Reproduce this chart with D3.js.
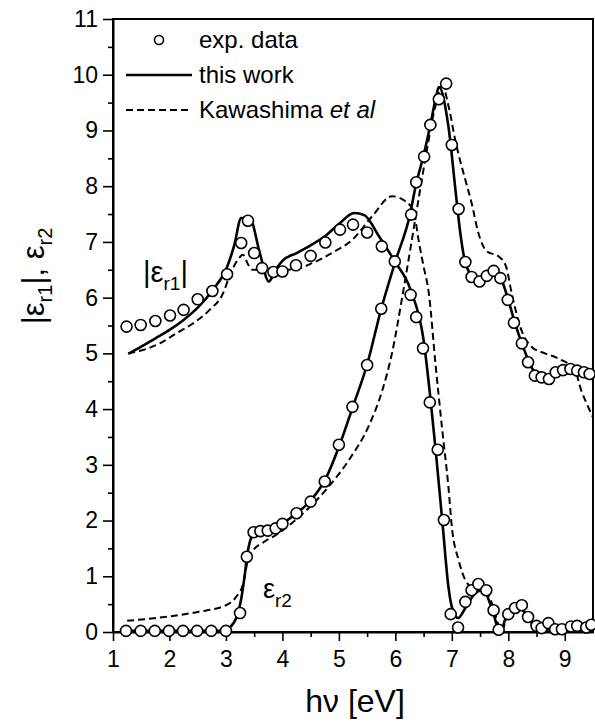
<!DOCTYPE html>
<html>
<head>
<meta charset="utf-8">
<script src="https://cdn.jsdelivr.net/npm/d3@7"></script>
<style>
  body { margin: 0; background: #fff; }
  svg { display: block; font-family: "Liberation Sans", Arial, sans-serif; }
</style>
</head>
<body>
<div id="chart"></div>
<script>
// |eps_r1| - measured points
var expE1 = [[1.24,5.48],[1.49,5.51],[1.75,5.58],[2.01,5.68],[2.25,5.78],[2.50,5.97],[2.76,6.12],[3.02,6.42],
  [3.27,6.98],[3.39,7.38],[3.50,6.80],[3.64,6.53],[3.84,6.46],[4.00,6.47],[4.24,6.58],[4.50,6.75],[4.76,6.99],
  [5.02,7.22],[5.25,7.31],[5.50,7.17],[5.76,6.92],[5.99,6.65],[6.27,6.05],[6.37,5.65],[6.49,5.09],[6.61,4.12],
  [6.75,3.27],[6.86,2.01],[6.98,0.32],[7.11,0.08],[7.24,0.54],[7.35,0.75],[7.47,0.86],[7.61,0.75],[7.74,0.39],
  [7.83,0.04],[8.00,0.32],[8.12,0.43],[8.24,0.48],[8.35,0.27],[8.50,0.11],[8.59,0.07],[8.71,0.16],[8.83,0.05],
  [8.95,0.05],[9.11,0.10],[9.22,0.11],[9.38,0.08],[9.47,0.13]];

// eps_r2 - measured points
var expE2 = [[1.23,0.02],[1.49,0.02],[1.74,0.02],[1.99,0.02],[2.24,0.02],[2.49,0.02],[2.74,0.02],[3.00,0.02],
  [3.25,0.34],[3.37,1.35],[3.49,1.79],[3.61,1.81],[3.74,1.82],[3.88,1.86],[4.00,1.94],[4.25,2.13],[4.50,2.34],
  [4.75,2.70],[5.00,3.36],[5.24,4.04],[5.50,4.79],[5.75,5.80],[6.28,7.49],[6.37,8.07],[6.51,8.53],
  [6.62,9.10],[6.77,9.56],[6.90,9.84],[7.00,8.74],[7.12,7.59],[7.24,6.64],[7.35,6.37],[7.49,6.29],[7.62,6.39],
  [7.74,6.48],[7.86,6.35],[7.99,5.96],[8.10,5.55],[8.24,5.18],[8.35,4.84],[8.47,4.60],[8.59,4.57],[8.72,4.54],
  [8.84,4.66],[8.97,4.70],[9.10,4.72],[9.22,4.69],[9.34,4.66],[9.44,4.63]];

// this work
var fitE1 = [[1.27,4.99],[1.5,5.12],[1.75,5.27],[2.0,5.42],[2.25,5.6],[2.5,5.82],[2.76,6.13],[3.02,6.55],
  [3.15,6.95],[3.27,7.43],[3.42,7.43],[3.6,6.8],[3.76,6.29],[3.88,6.5],[4.0,6.66],[4.25,6.8],[4.47,6.92],
  [4.75,7.1],[5.0,7.32],[5.27,7.52],[5.45,7.48],[5.71,7.1],[5.99,6.65],[6.27,6.14],[6.5,5.24],[6.62,4.2],
  [6.72,3.2],[6.84,1.89],[6.94,0.81],[7.0,0.45],[7.11,0.25],[7.25,0.45],[7.4,0.68],[7.5,0.74],[7.58,0.72],
  [7.7,0.45],[7.86,0.0],[7.97,0.3],[8.12,0.44],[8.22,0.42],[8.41,0.17],[8.59,0.04],[8.8,0.05],[9.2,0.05],[9.5,0.16]];

var fitE2 = [[1.25,0.02],[2.9,0.02],[3.05,0.07],[3.2,0.3],[3.28,0.65],[3.33,1.0],[3.38,1.4],[3.47,1.74],
  [3.56,1.81],[3.75,1.85],[4.0,1.95],[4.25,2.13],[4.5,2.36],[4.75,2.72],[5.0,3.32],[5.25,4.05],[5.5,4.8],
  [5.75,5.8],[6.0,6.65],[6.25,7.45],[6.37,8.05],[6.5,8.55],[6.62,9.1],[6.72,9.6],[6.77,9.78],[6.94,9.07],
  [7.07,7.88],[7.15,7.16],[7.24,6.62],[7.3,6.47],[7.38,6.32],[7.5,6.26],[7.65,6.35],[7.77,6.43],[7.88,6.32],
  [8.0,5.96],[8.12,5.54],[8.24,5.18],[8.38,4.82],[8.5,4.6],[8.59,4.52],[8.77,4.58],[9.0,4.7],[9.24,4.67],[9.5,4.57]];

// Kawashima et al
var kawE1 = [[1.27,5.0],[1.53,5.06],[1.83,5.18],[2.12,5.36],[2.42,5.54],[2.71,5.78],[2.95,6.08],[3.06,6.38],
  [3.21,6.68],[3.3,6.77],[3.39,6.6],[3.47,6.5],[3.71,6.5],[3.89,6.5],[4.21,6.51],[4.53,6.62],[4.89,6.81],
  [5.24,7.04],[5.59,7.46],[5.94,7.82],[6.18,7.73],[6.33,7.52],[6.41,7.04],[6.5,6.56],[6.59,6.1],[6.71,4.82],
  [6.83,3.63],[6.94,2.6],[7.0,1.89],[7.12,1.29],[7.24,0.93],[7.35,0.81],[7.5,0.8],[7.6,0.75],[7.75,0.4],
  [7.87,0.02],[8.0,0.3],[8.15,0.45],[8.3,0.35],[8.5,0.1],[8.7,0.05],[9.0,0.05],[9.3,0.07],[9.5,0.15]];

var kawE2 = [[1.25,0.2],[2.0,0.28],[2.5,0.36],[3.0,0.48],[3.18,0.63],[3.3,0.85],[3.39,1.29],[3.47,1.45],
  [3.65,1.6],[3.9,1.75],[4.3,2.07],[4.77,2.55],[5.18,3.09],[5.53,3.7],[5.77,4.34],[5.94,5.0],[6.12,6.0],
  [6.27,6.9],[6.4,7.7],[6.55,8.6],[6.7,9.4],[6.83,9.8],[6.95,9.4],[7.06,8.83],[7.24,8.11],[7.35,7.7],
  [7.47,7.16],[7.62,6.83],[7.83,6.74],[7.96,6.56],[8.06,6.08],[8.21,5.48],[8.41,5.12],[8.65,5.0],[8.88,4.91],
  [9.18,4.7],[9.29,4.34],[9.41,4.05],[9.5,3.85]];

var xTicks = [1,2,3,4,5,6,7,8,9];
var yTicks = [0,1,2,3,4,5,6,7,8,9,10,11];

function drawChart() {
  var width = 595, height = 725;
  var mLeft = 113, mRight = 593, mTop = 19, mBottom = 632;

  var svg = d3.select('#chart').append('svg')
    .attr('width', width)
    .attr('height', height);

  var x = d3.scaleLinear().domain([1, 9.5]).range([mLeft, mRight]);
  var y = d3.scaleLinear().domain([0, 11]).range([mBottom, mTop]);

  var line = d3.line()
    .x(function (d) { return x(d[0]); })
    .y(function (d) { return y(d[1]); })
    .curve(d3.curveMonotoneX);

  // frame
  svg.append('rect')
    .attr('x', mLeft).attr('y', mTop)
    .attr('width', mRight - mLeft).attr('height', mBottom - mTop)
    .attr('fill', 'none').attr('stroke', '#000').attr('stroke-width', 2);

  // minor ticks
  var minorX = d3.range(1.5, 9.5, 1);
  var minorY = d3.range(0.5, 11, 1);
  svg.append('g')
    .attr('transform', 'translate(0,' + mBottom + ')')
    .call(d3.axisBottom(x).tickValues(minorX).tickSize(5).tickSizeOuter(0).tickFormat(''))
    .call(function (g) { g.select('.domain').remove(); });
  svg.append('g')
    .attr('transform', 'translate(' + mLeft + ',0)')
    .call(d3.axisLeft(y).tickValues(minorY).tickSize(5).tickSizeOuter(0).tickFormat(''))
    .call(function (g) { g.select('.domain').remove(); });

  svg.append('g')
    .attr('transform', 'translate(0,' + mBottom + ')')
    .call(d3.axisBottom(x).tickValues(xTicks).tickSize(9).tickPadding(10).tickSizeOuter(0).tickFormat(d3.format('d')));
  svg.append('g')
    .attr('transform', 'translate(' + mLeft + ',0)')
    .call(d3.axisLeft(y).tickValues(yTicks).tickSize(10).tickPadding(5).tickSizeOuter(0).tickFormat(d3.format('d')));

  svg.selectAll('.tick line').attr('stroke', '#000').attr('stroke-width', 1.6);
  svg.selectAll('.domain').attr('stroke', '#000').attr('stroke-width', 2);
  svg.selectAll('.tick text')
    .attr('font-family', '"Liberation Sans", Arial, sans-serif')
    .attr('font-size', 23)
    .attr('fill', '#000');

  // curves
  var plot = svg.append('g');

  [kawE1, kawE2].forEach(function (s) {
    plot.append('path').datum(s)
      .attr('d', line)
      .attr('fill', 'none')
      .attr('stroke', '#000')
      .attr('stroke-width', 2)
      .attr('stroke-dasharray', '7,4');
  });

  [fitE1, fitE2].forEach(function (s) {
    plot.append('path').datum(s)
      .attr('d', line)
      .attr('fill', 'none')
      .attr('stroke', '#000')
      .attr('stroke-width', 2.6);
  });

  plot.selectAll('circle.exp')
    .data(expE1.concat(expE2))
    .enter()
    .append('circle')
    .attr('class', 'exp')
    .attr('cx', function (d) { return x(d[0]); })
    .attr('cy', function (d) { return y(d[1]); })
    .attr('r', 5.5)
    .attr('fill', '#fff')
    .attr('stroke', '#000')
    .attr('stroke-width', 1.6);

  // legend
  var leg = svg.append('g').attr('font-size', 24);
  leg.append('circle').attr('cx', 159).attr('cy', 40).attr('r', 4.5)
    .attr('fill', '#fff').attr('stroke', '#000').attr('stroke-width', 1.6);
  leg.append('text').attr('x', 199).attr('y', 48).text('exp. data');
  leg.append('line').attr('x1', 126).attr('x2', 192).attr('y1', 75).attr('y2', 75)
    .attr('stroke', '#000').attr('stroke-width', 2.6);
  leg.append('text').attr('x', 199).attr('y', 83).text('this work');
  leg.append('line').attr('x1', 126).attr('x2', 192).attr('y1', 110).attr('y2', 110)
    .attr('stroke', '#000').attr('stroke-width', 2).attr('stroke-dasharray', '7,4');
  var kt = leg.append('text').attr('x', 199).attr('y', 118);
  kt.append('tspan').text('Kawashima ');
  kt.append('tspan').attr('font-style', 'italic').text('et al');

  // curve labels
  var l1 = svg.append('text').attr('x', 143).attr('y', 282).attr('font-size', 29);
  l1.append('tspan').text('|ε');
  l1.append('tspan').attr('font-size', 19).attr('dy', 8).text('r1');
  l1.append('tspan').attr('dy', -8).text('|');

  var l2 = svg.append('text').attr('x', 263).attr('y', 598).attr('font-size', 27);
  l2.append('tspan').text('ε');
  l2.append('tspan').attr('font-size', 19).attr('dy', 9).text('r2');

  // axis titles
  svg.append('text')
    .attr('x', 355).attr('y', 712)
    .attr('text-anchor', 'middle')
    .attr('font-size', 32)
    .text('hν [eV]');

  var yt = svg.append('text')
    .attr('transform', 'translate(44,276) rotate(-90)')
    .attr('text-anchor', 'middle')
    .attr('font-size', 31);
  yt.append('tspan').text('|ε');
  yt.append('tspan').attr('font-size', 20).attr('dy', 8).text('r1');
  yt.append('tspan').attr('dy', -8).text('|, ε');
  yt.append('tspan').attr('font-size', 20).attr('dy', 8).text('r2');
}

drawChart();
</script>
</body>
</html>
